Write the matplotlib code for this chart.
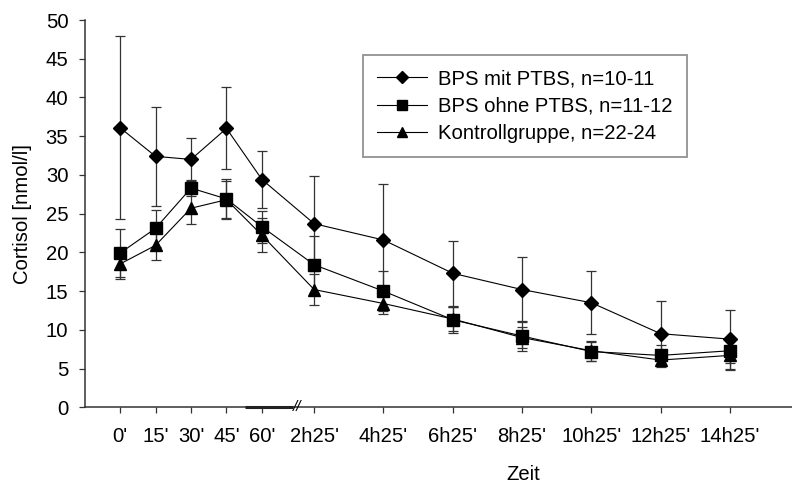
import numpy as np
import matplotlib
matplotlib.use("Agg")
import matplotlib.pyplot as plt
from matplotlib.lines import Line2D

plt.rcParams['font.family'] = ['Liberation Sans', 'DejaVu Sans']

# ---- data ----
minutes = [0, 15, 30, 45, 60, 145, 265, 385, 505, 625, 745, 865]
tick_labels = ["0'", "15'", "30'", "45'", "60'", "2h25'", "4h25'", "6h25'",
               "8h25'", "10h25'", "12h25'", "14h25'"]

mit_ptbs = [36.1, 32.4, 32.0, 36.0, 29.4, 23.7, 21.6, 17.3, 15.2, 13.5, 9.5, 8.8]
mit_ptbs_err = [11.8, 6.4, 2.8, 5.3, 3.7, 6.1, 7.2, 4.2, 4.2, 4.1, 4.2, 3.8]

ohne_ptbs = [19.9, 23.1, 28.3, 26.9, 23.3, 18.4, 15.0, 11.3, 9.2, 7.2, 6.7, 7.3]
ohne_ptbs_err = [3.1, 2.4, 1.0, 2.6, 2.1, 3.7, 2.6, 1.7, 1.9, 1.2, 1.3, 1.6]

kontroll = [18.5, 20.9, 25.7, 26.8, 22.2, 15.2, 13.4, 11.4, 9.0, 7.3, 6.1, 6.7]
kontroll_err = [2.0, 1.9, 2.0, 2.4, 2.2, 2.0, 1.4, 1.6, 1.4, 1.3, 0.9, 1.9]

labels = ["BPS mit PTBS, n=10-11", "BPS ohne PTBS, n=11-12", "Kontrollgruppe, n=22-24"]

# ---- broken time axis (piecewise linear scale) ----
_t = np.array([-200.0, 0.0, 60.0, 145.0, 865.0, 2000.0])
_p = np.array([-200.0 / 15, 0.0, 4.0, 5.47, 5.47 + 6 * 1.952,
               5.47 + 6 * 1.952 + (2000 - 865) * 1.952 / 120])

def fwd(x):
    return np.interp(x, _t, _p)

def inv(y):
    return np.interp(y, _p, _t)

FS = 14.6

fig = plt.figure(figsize=(7.92, 4.88), dpi=100)
ax = fig.add_axes([85 / 792, 1 - 407.3 / 488, 707 / 792, 387.3 / 488])
ax.set_xscale('function', functions=(fwd, inv))

series = [(mit_ptbs, mit_ptbs_err, 'D', 7.4),
          (ohne_ptbs, ohne_ptbs_err, 's', 8.6),
          (kontroll, kontroll_err, '^', 8.8)]

handles = []
for (vals, errs, mk, ms), lab in zip(series, labels):
    ax.errorbar(minutes, vals, yerr=errs, fmt='none', ecolor='#333333',
                elinewidth=0.9, capsize=3.3, capthick=0.9, zorder=2)
for (vals, errs, mk, ms), lab in zip(series[::-1], labels[::-1]):
    ax.plot(minutes, vals, color='black', lw=0.8, marker=mk, ms=ms,
            mfc='black', mec='black', zorder=3)
for (vals, errs, mk, ms), lab in zip(series, labels):
    handles.append(Line2D([], [], color='black', lw=0.8, marker=mk, ms=ms * 0.85,
                          mfc='black', mec='black', label=lab))

ax.set_ylim(0, 50)
ax.set_yticks(np.arange(0, 51, 5))
ax.set_xlim(inv(-0.986), inv(18.93))
ax.set_xticks(minutes)
ax.set_xticklabels(tick_labels)
ax.minorticks_off()

for s in ['top', 'right']:
    ax.spines[s].set_visible(False)
for s in ['left', 'bottom']:
    ax.spines[s].set_color('#333333')
    ax.spines[s].set_linewidth(1.1)

ax.tick_params(axis='y', direction='out', length=4, width=0.9, color='#333333',
               labelsize=FS, pad=8)
ax.tick_params(axis='x', direction='out', length=4.5, width=0.9, color='#333333',
               labelsize=FS, pad=10)

# axis break decoration
trans = ax.get_xaxis_transform()
ax.plot([inv(3.52), inv(4.87)], [0, 0], color='#222222', lw=2.2, transform=trans,
        clip_on=False, solid_capstyle='butt', zorder=4)
ax.text(inv(5.0), 0.0, '//', transform=trans, ha='center', va='center',
        fontsize=11, fontstyle='italic', clip_on=False)

ax.set_ylabel('Cortisol [nmol/l]', fontsize=FS, labelpad=10)
ax.set_xlabel('Zeit', fontsize=FS, va='center')
ax.xaxis.set_label_coords(0.6195, -66.7 / 387.3)

leg = ax.legend(handles=handles, loc='upper left',
                bbox_to_anchor=((363 - 85) / 707, (407.3 - 55) / 387.3),
                borderaxespad=0, fontsize=FS, frameon=True, fancybox=False,
                handlelength=2.45, handletextpad=0.55, labelspacing=0.42,
                borderpad=0.7)
leg.get_frame().set_edgecolor('#777777')
leg.get_frame().set_linewidth(1.3)

fig.savefig('out.png', dpi=100)
